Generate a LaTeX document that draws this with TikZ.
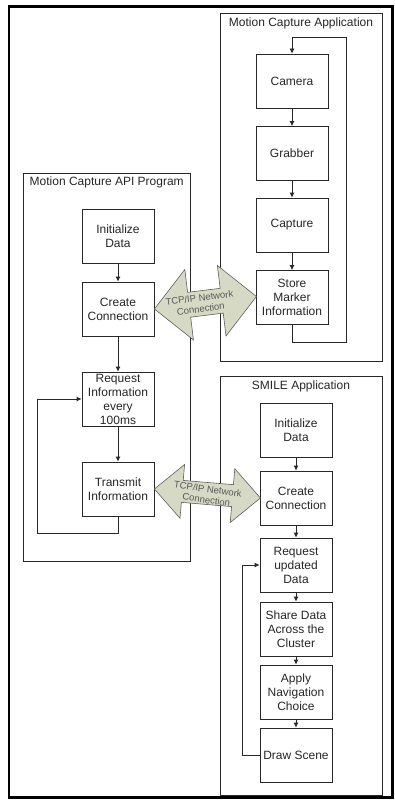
\documentclass[tikz,border=0pt]{standalone}
\usepackage{fontspec}
\setmainfont{Liberation Sans}
\usetikzlibrary{arrows.meta,calc}
\definecolor{netfill}{RGB}{214,218,196}
\definecolor{netline}{RGB}{95,95,95}
\definecolor{linecol}{RGB}{40,40,40}
\begin{document}
\begin{tikzpicture}[x=1pt,y=-1pt,
  box/.style={draw=linecol, line width=0.8pt, minimum width=72pt, minimum height=54pt,
    inner sep=1pt, align=center, font=\fontsize{12}{14}\selectfont, text=black!85},
  container/.style={draw=linecol, line width=0.8pt, inner sep=0pt},
  titletext/.style={font=\fontsize{12}{14}\selectfont, inner sep=0pt, anchor=base, text=black!85},
  flow/.style={draw=linecol, line width=0.8pt, -{Latex[length=5pt,width=5pt]}},
  netarrow/.style={draw=netline, fill=netfill, line width=0.6pt, line join=miter},
  nettext/.style={font=\fontsize{9.5}{11}\selectfont, text=black!65, align=center, inner sep=0pt}
]
\useasboundingbox (0,0) rectangle (395,800);
\draw[line width=2.2pt] (9,6.5) rectangle (392.5,797.5);

% containers
\node[container, minimum width=162pt, minimum height=348pt] (mca) at (301,187) {};
\node[titletext] (mcat) at (301,26.3) {Motion Capture Application};
\node[container, minimum width=167pt, minimum height=388pt] (api) at (106.5,367) {};
\node[titletext] (apit) at (106.7,185.5) {Motion Capture API Program};
\node[container, minimum width=162pt, minimum height=419pt] (smile) at (301,585.5) {};
\node[titletext] (smilet) at (301,389) {SMILE Application};

% Motion Capture Application
\node[box] (cam) at (292,81) {Camera};
\node[box] (grab) at (292,153.5) {Grabber};
\node[box] (capt) at (292,225) {Capture};
\node[box] (store) at (292,297.5) {Store\\Marker\\Information};
\coordinate (mcaR1) at (346,342);
\coordinate (mcaR2) at (346,37);
\draw[flow] (cam) -- (grab);
\draw[flow] (grab) -- (capt);
\draw[flow] (capt) -- (store);
\draw[flow] (store.south) |- (mcaR1) -- (mcaR2) -| (cam.north);

% Motion Capture API Program
\node[box] (ainit) at (118,236) {Initialize\\Data};
\node[box] (acre) at (118,309) {Create\\Connection};
\node[box] (areq) at (118,399) {Request\\Information\\every\\100ms};
\node[box] (atx) at (118,489) {Transmit\\Information};
\coordinate (apiL) at (37,533);
\draw[flow] (ainit) -- (acre);
\draw[flow] (acre) -- (areq);
\draw[flow] (areq) -- (atx);
\draw[flow] (atx.south) |- (apiL) |- (areq.west);

% SMILE Application
\node[box] (sinit) at (296,430) {Initialize\\Data};
\node[box] (scre) at (296,498) {Create\\Connection};
\node[box] (sreq) at (296,565) {Request\\updated\\Data};
\node[box] (sshare) at (296,629) {Share Data\\Across the\\Cluster};
\node[box] (snav) at (296,692) {Apply\\Navigation\\Choice};
\node[box] (sdraw) at (296,755) {Draw Scene};
\coordinate (smL) at (242,755);
\draw[flow] (sinit) -- (scre);
\draw[flow] (scre) -- (sreq);
\draw[flow] (sreq) -- (sshare);
\draw[flow] (sshare) -- (snav);
\draw[flow] (snav) -- (sdraw);
\draw[flow] (sdraw.west) -- (smL) |- (sreq.west);

% network double arrows
\begin{scope}[shift={(acre.east)}, rotate=7.0]
  \draw[netarrow] (0,0) -- (35,-35.5) -- (35,-12.5) -- (67.8,-12.5) -- (67.8,-35.5)
    -- (102.8,0) -- (67.8,35.5) -- (67.8,12.5) -- (35,12.5) -- (35,35.5) -- cycle;
  \node[nettext, rotate=7] (net1) at (46,0) {TCP/IP Network\\Connection};
\end{scope}
\begin{scope}[shift={(atx.east)}, rotate=-4.85]
  \draw[netarrow] (0,0) -- (28,-27) -- (28,-11) -- (78.4,-11) -- (78.4,-27)
    -- (106.4,0) -- (78.4,27) -- (78.4,11) -- (28,11) -- (28,27) -- cycle;
  \node[nettext, rotate=-8] (net2) at (53,1) {TCP/IP Network\\Connection};
\end{scope}
\end{tikzpicture}
\end{document}
